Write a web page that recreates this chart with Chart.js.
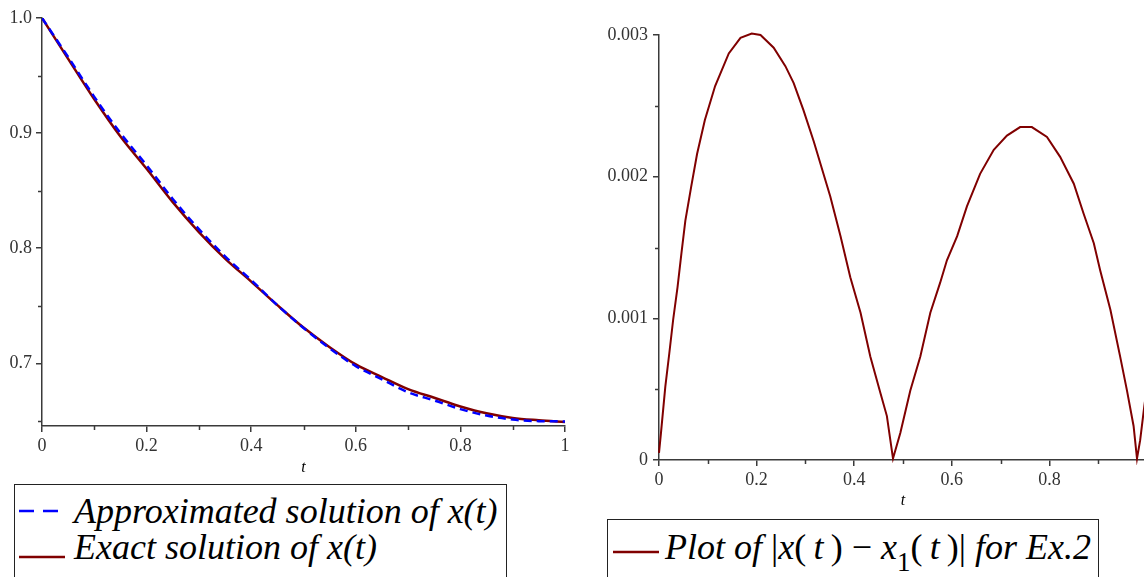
<!DOCTYPE html>
<html>
<head>
<meta charset="utf-8">
<script src="https://cdn.jsdelivr.net/npm/chart.js@4.4.0/dist/chart.umd.min.js"></script>
<style>
html, body { margin: 0; padding: 0; background: #fff; width: 1144px; height: 577px; overflow: hidden; position: relative; }
#c1 { position: absolute; left: 0; top: 0; }
#c2 { position: absolute; left: 590px; top: 0; }
.legend { position: absolute; border: 1.5px solid #222; height: 120px; background: #fff;
  font-family: 'Liberation Serif', 'Times New Roman', serif; font-style: italic; font-size: 36px; color: #000; }
.row { position: absolute; line-height: 36px; white-space: nowrap; }
.legend svg { position: absolute; }
.up { font-style: normal; }
sub { font-style: normal; font-size: 27px; vertical-align: -12px; line-height: 0; }
</style>
</head>
<body>
<canvas id="c1" width="580" height="480"></canvas>
<canvas id="c2" width="580" height="520"></canvas>

<div class="legend" style="left:14px; top:484px; width:491px;">
  <svg style="left:2px; top:22px;" width="50" height="8"><line x1="2" y1="4" x2="48" y2="4" stroke="#0000ff" stroke-width="2.5" stroke-dasharray="15,9"/></svg>
  <div class="row" style="left:59px; top:8px;">Approximated solution of x(t)</div>
  <svg style="left:2px; top:68px;" width="50" height="8"><line x1="2" y1="4" x2="48" y2="4" stroke="#800000" stroke-width="2.5"/></svg>
  <div class="row" style="left:59px; top:44px;">Exact solution of x(t)</div>
</div>

<div class="legend" style="left:607px; top:519px; width:490px;">
  <svg style="left:3px; top:28px;" width="50" height="8"><line x1="2" y1="4" x2="48" y2="4" stroke="#800000" stroke-width="2.5"/></svg>
  <div class="row" style="left:57px; top:9px;">Plot of <span class="up">|</span>x<span class="up">(</span>&thinsp;t&thinsp;<span class="up">)</span> <span class="up">&minus;</span> x<sub>1</sub><span class="up">(</span>&thinsp;t&thinsp;<span class="up">)|</span> for Ex.2</div>
</div>

<script>
// left plot: exact and approximated x(t)
var tLeft = [0, 0.05, 0.1, 0.15, 0.2, 0.25, 0.3, 0.35, 0.4, 0.45, 0.5,
             0.55, 0.6, 0.65, 0.7, 0.75, 0.8, 0.85, 0.9, 0.95, 1];
var exactX = [1.000, 0.9645, 0.9294, 0.897, 0.869, 0.840, 0.814, 0.791, 0.771, 0.7505, 0.731,
              0.714, 0.699, 0.688, 0.6775, 0.670, 0.6625, 0.6565, 0.6525, 0.6505, 0.649];
var approxX = [1.000, 0.9661, 0.9315, 0.8999, 0.8720, 0.8428, 0.8165, 0.7929, 0.7722, 0.7505, 0.7307,
               0.7130, 0.6975, 0.6861, 0.6748, 0.6677, 0.6602, 0.6546, 0.6511, 0.6497, 0.6495];

// right plot: |x(t) - x1(t)|
var tErr = [0, 0.004, 0.013, 0.021, 0.029, 0.038, 0.046, 0.054, 0.066, 0.078, 0.094, 0.115, 0.143,
            0.167, 0.19, 0.208, 0.235, 0.259, 0.276, 0.296, 0.317, 0.351, 0.372, 0.392, 0.413, 0.433,
            0.454, 0.467, 0.4795, 0.4945, 0.515, 0.5355, 0.556, 0.576, 0.59, 0.611, 0.631, 0.658,
            0.686, 0.713, 0.74, 0.764, 0.795, 0.822, 0.85, 0.87, 0.891, 0.904, 0.925, 0.945, 0.959,
            0.9725, 0.9795, 0.986, 0.9945, 1.0];
var errVal = [0.05, 0.19, 0.52, 0.75, 0.99, 1.22, 1.46, 1.69, 1.93, 2.16, 2.40, 2.64, 2.87,
              2.98, 3.01, 3.00, 2.91, 2.78, 2.66, 2.47, 2.25, 1.86, 1.58, 1.29, 1.04, 0.73,
              0.47, 0.31, 0.01, 0.19, 0.49, 0.73, 1.04, 1.25, 1.41, 1.58, 1.79, 2.02,
              2.19, 2.29, 2.35, 2.35, 2.28, 2.14, 1.95, 1.74, 1.53, 1.34, 1.06, 0.73, 0.49,
              0.24, 0.01, 0.14, 0.38, 0.52];   // x 1e-3

var xTicks = [0, 0.2, 0.4, 0.6, 0.8, 1];
var xMinor = [0.1, 0.3, 0.5, 0.7, 0.9];
var yTicksLeft = [0.7, 0.8, 0.9, 1.0];
var yMinorLeft = [0.65, 0.75, 0.85, 0.95];
var yTicksRight = [0, 0.001, 0.002, 0.003];
var yMinorRight = [0.0005, 0.0015, 0.0025];

function pairs(xs, ys, k) {
  return xs.map(function (x, i) { return {x: x, y: ys[i] * (k || 1)}; });
}

var axisCol = '#3a3a3a';
var tickFont = {family: "'Liberation Serif', serif", size: 18};
var titleFont = {family: "'Liberation Serif', serif", size: 16, style: 'italic'};

// short unlabeled tick marks
var minorTicks = {
  id: 'minorTicks',
  afterDraw: function (chart, args, opts) {
    var ctx = chart.ctx, sx = chart.scales.x, sy = chart.scales.y;
    ctx.save();
    ctx.strokeStyle = axisCol;
    ctx.lineWidth = 1.5;
    ctx.beginPath();
    opts.x.forEach(function (v) {
      var px = Math.round(sx.getPixelForValue(v)) + 0.5;
      ctx.moveTo(px, sx.top); ctx.lineTo(px, sx.top + 4);
    });
    opts.y.forEach(function (v) {
      var py = Math.round(sy.getPixelForValue(v)) + 0.5;
      ctx.moveTo(sy.right, py); ctx.lineTo(sy.right - 4, py);
    });
    ctx.stroke();
    ctx.restore();
  }
};

function scales(opt) {
  return {
    x: {
      type: 'linear', min: 0, max: 1,
      afterBuildTicks: function (s) { s.ticks = xTicks.map(function (v) { return {value: v}; }); },
      afterFit: function (s) { s.height = opt.xH; },
      ticks: {font: tickFont, color: '#333', padding: 3, maxRotation: 0,
              callback: function (v) { return v === 0 ? '0' : (v === 1 ? '1' : v.toFixed(1)); }},
      grid: {drawOnChartArea: false, tickLength: 6, color: axisCol, lineWidth: 1.5},
      border: {color: axisCol, width: 1.5},
      title: {display: true, text: 't', font: titleFont, color: '#000', padding: {top: 0, bottom: opt.tPad}}
    },
    y: {
      type: 'linear', min: opt.yMin, max: opt.yMax,
      afterBuildTicks: function (s) { s.ticks = opt.yTicks.map(function (v) { return {value: v}; }); },
      afterFit: function (s) { s.width = opt.yW; },
      ticks: {font: tickFont, color: '#333', padding: opt.yPad, callback: opt.fmt},
      grid: {drawOnChartArea: false, tickLength: 6, color: axisCol, lineWidth: 1.5},
      border: {color: axisCol, width: 1.5}
    }
  };
}

new Chart(document.getElementById('c1'), {
  type: 'line',
  data: {
    datasets: [
      {label: 'Approximated solution of x(t)', data: pairs(tLeft, approxX),
       borderColor: '#0000ff', borderWidth: 2.5, borderDash: [8, 5], pointRadius: 0,
       cubicInterpolationMode: 'monotone'},
      {label: 'Exact solution of x(t)', data: pairs(tLeft, exactX),
       borderColor: '#800000', borderWidth: 2.5, pointRadius: 0,
       cubicInterpolationMode: 'monotone'}
    ]
  },
  options: {
    responsive: false, animation: false,
    layout: {padding: {left: 0, top: 18, right: 15, bottom: 0}},
    plugins: {legend: {display: false}, tooltip: {enabled: false},
              minorTicks: {x: xMinor, y: yMinorLeft}},
    scales: scales({xH: 54, tPad: 3, yMin: 0.6455, yMax: 1.0, yTicks: yTicksLeft, yW: 42, yPad: 4,
                    fmt: function (v) { return v.toFixed(1); }})
  },
  plugins: [minorTicks]
});

new Chart(document.getElementById('c2'), {
  type: 'line',
  data: {
    datasets: [
      {label: 'Plot of |x(t) - x1(t)| for Ex.2', data: pairs(tErr, errVal, 0.001),
       borderColor: '#800000', borderWidth: 2, pointRadius: 0, tension: 0, clip: 5}
    ]
  },
  options: {
    responsive: false, animation: false,
    layout: {padding: {left: 0, top: 35, right: 23, bottom: 0}},
    plugins: {legend: {display: false}, tooltip: {enabled: false},
              minorTicks: {x: xMinor, y: yMinorRight}},
    scales: scales({xH: 60, tPad: 10, yMin: 0, yMax: 0.003, yTicks: yTicksRight, yW: 69, yPad: 5,
                    fmt: function (v) { return v === 0 ? '0' : v.toFixed(3); }})
  },
  plugins: [minorTicks]
});
</script>
</body>
</html>
